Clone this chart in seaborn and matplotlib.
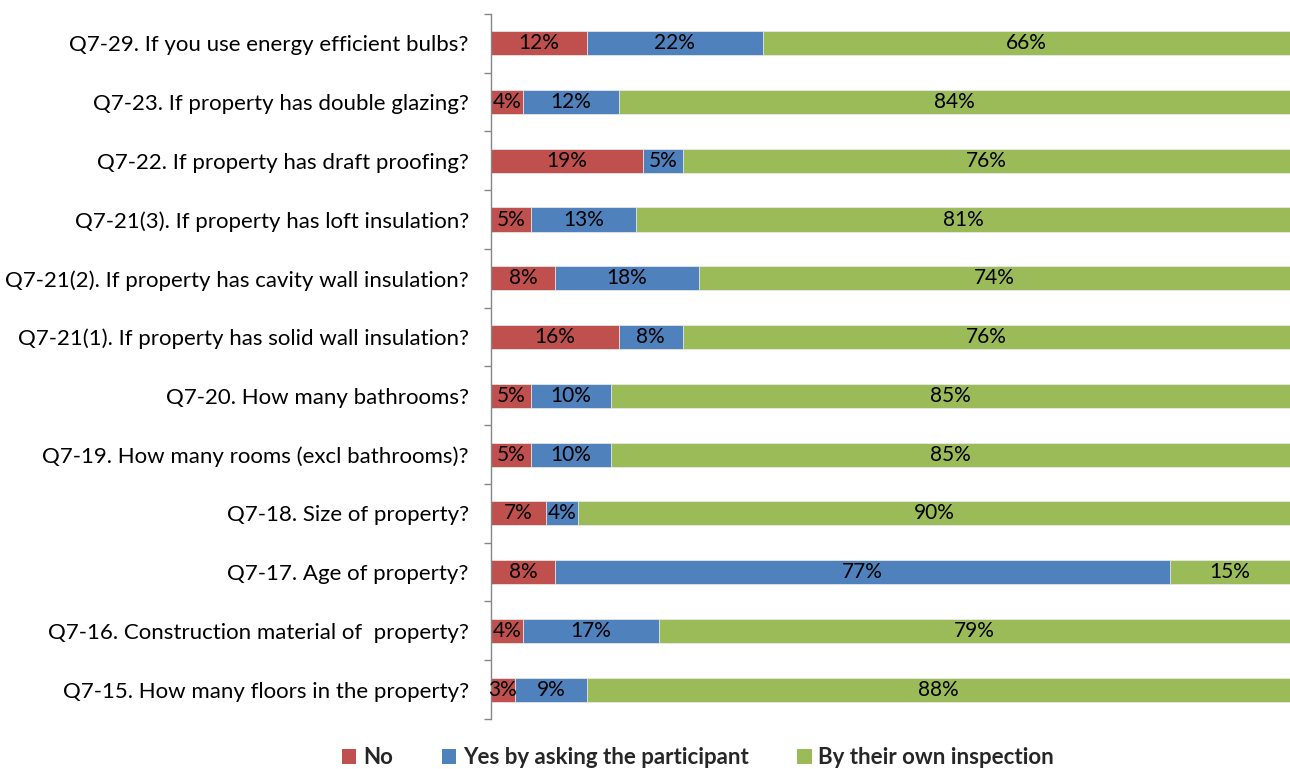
import numpy as np
import pandas as pd
import matplotlib
matplotlib.use("Agg")
import matplotlib.pyplot as plt
from matplotlib.patches import Patch
import seaborn as sns

questions = [
    "Q7-29. If you use energy efficient bulbs?",
    "Q7-23. If property has double glazing?",
    "Q7-22. If property has draft proofing?",
    "Q7-21(3). If property has loft insulation?",
    "Q7-21(2). If property has cavity wall insulation?",
    "Q7-21(1). If property has solid wall insulation?",
    "Q7-20. How many bathrooms?",
    "Q7-19. How many rooms (excl bathrooms)?",
    "Q7-18. Size of property?",
    "Q7-17. Age of property?",
    "Q7-16. Construction material of  property?",
    "Q7-15. How many floors in the property?",
]
no_pct = [12, 4, 19, 5, 8, 16, 5, 5, 7, 8, 4, 3]
asking_pct = [22, 12, 5, 13, 18, 8, 10, 10, 4, 77, 17, 9]
inspection_pct = [66, 84, 76, 81, 74, 76, 85, 85, 90, 15, 79, 88]

series_names = ["No", "Yes by asking the participant", "By their own inspection"]
colors = ["#C0504D", "#4F81BD", "#9BBB59"]

df = pd.DataFrame({
    "question": questions,
    "No": no_pct,
    "Asking": asking_pct,
    "Inspection": inspection_pct,
})
total = df[["No", "Asking", "Inspection"]].sum(axis=1)
# 100% stacked: scale each row to its total
df["s_no"] = df["No"] / total * 100
df["s_ask"] = df["Asking"] / total * 100
df["s_insp"] = df["Inspection"] / total * 100
df["cum_no"] = df["s_no"]
df["cum_ask"] = df["s_no"] + df["s_ask"]
df["cum_insp"] = df["cum_ask"] + df["s_insp"]

sns.set_style("white")
plt.rcParams["font.family"] = ["Lato", "DejaVu Sans"]

fig = plt.figure(figsize=(12.9, 7.69), dpi=100)
ax = fig.add_axes([0.3806, 0.065, 0.6194, 0.917])

width = 0.41
for col, color in zip(["cum_insp", "cum_ask", "cum_no"], colors[::-1]):
    sns.barplot(data=df, x=col, y="question", order=questions, color=color,
                width=width, ax=ax, orient="h", edgecolor="#E8E8E8",
                linewidth=0.6, saturation=1)

# value labels centred in each segment
for i, row in df.iterrows():
    starts = [0, row["cum_no"], row["cum_ask"]]
    sizes = [row["s_no"], row["s_ask"], row["s_insp"]]
    vals = [row["No"], row["Asking"], row["Inspection"]]
    for s, w, v in zip(starts, sizes, vals):
        ax.text(s + w / 2, i, f"{v}%", ha="center", va="center",
                fontsize=15, color="black")

ax.set_xlim(0, 100)
ax.set_ylim(len(questions) - 0.5, -0.5)
ax.set_xlabel("")
ax.set_ylabel("")
ax.set_xticks([])

ax.set_yticks(range(len(questions)))
ax.set_yticklabels(questions, fontsize=16, color="black")
ax.tick_params(axis="y", which="major", length=0, pad=16)
ax.set_yticks(np.arange(-0.5, len(questions), 1), minor=True)
ax.tick_params(axis="y", which="minor", length=5, width=1, color="#868686",
               direction="out", left=True)

for side in ["top", "right", "bottom"]:
    ax.spines[side].set_visible(False)
ax.spines["left"].set_color("#868686")
ax.spines["left"].set_linewidth(1)

handles = [Patch(facecolor=c, edgecolor="none") for c in colors]
fig.legend(handles, series_names, loc="center", ncol=3,
           bbox_to_anchor=(0.541, 0.015), frameon=False,
           prop={"weight": "bold", "size": 16},
           handlelength=0.65, handleheight=0.65, handletextpad=0.3,
           columnspacing=2.2)

fig.savefig("out.png", dpi=100)
